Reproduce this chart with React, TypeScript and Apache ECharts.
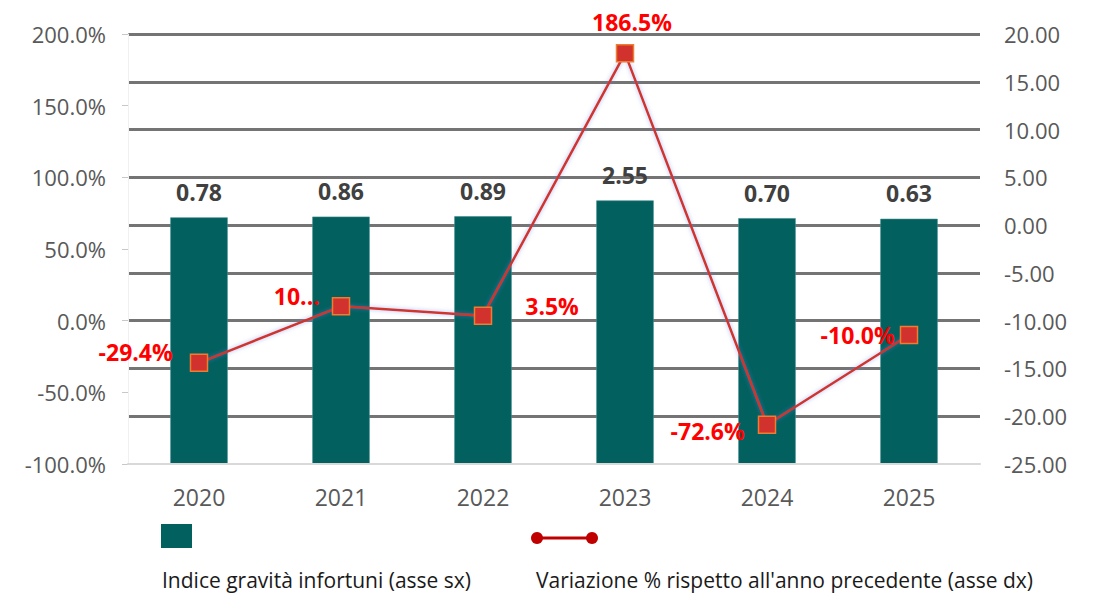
import React, { useEffect, useRef } from "react";
import * as echarts from "echarts";

const YEARS = ["2020", "2021", "2022", "2023", "2024", "2025"];
const INDEX_VALUES = [0.78, 0.86, 0.89, 2.55, 0.7, 0.63];
const CHANGE_PCT = [-29.4, 10.0, 3.5, 186.5, -72.6, -10.0];
const CHANGE_LABELS = ["-29.4%", "10...", "3.5%", "186.5%", "-72.6%", "-10.0%"];
const LEFT_AXIS = { min: -100, max: 200, interval: 50 };
const RIGHT_AXIS = { min: -25, max: 20, interval: 5 };
const LEGEND_BAR = "Indice gravità infortuni (asse sx)";
const LEGEND_LINE = "Variazione % rispetto all'anno precedente (asse dx)";

const FONT = "'Open Sans', 'Noto Sans', sans-serif";
const TEAL = "#02605F";

export default function App() {
  const ref = useRef<HTMLDivElement>(null);

  useEffect(() => {
    if (!ref.current) return;
    const chart = echarts.init(ref.current, null, { renderer: "svg" });

    const labelPlacement: any[] = [
      { position: "left", distance: 17, offset: [0, -11] },
      { position: "left", distance: 12, offset: [0, -10] },
      { position: "right", distance: 33, offset: [0, -10] },
      { position: "top", distance: 11, offset: [7, 0] },
      { position: "left", distance: 13, offset: [0, 6] },
      { position: "left", distance: 5, offset: [0, 0] },
    ];

    const option: any = {
      animation: false,
      backgroundColor: "#ffffff",
      textStyle: { fontFamily: FONT },
      grid: { left: 128, right: 123, top: 34, bottom: 133, containLabel: false },
      xAxis: {
        type: "category",
        data: YEARS,
        boundaryGap: true,
        axisLine: { show: true, onZero: false, lineStyle: { color: "#d9d9d9", width: 2 } },
        axisTick: { show: false },
        axisLabel: { color: "#595959", fontSize: 23, margin: 21, fontFamily: FONT },
        z: 5,
      },
      yAxis: [
        {
          type: "value",
          position: "left",
          min: LEFT_AXIS.min,
          max: LEFT_AXIS.max,
          interval: LEFT_AXIS.interval,
          axisLine: { show: true, lineStyle: { color: "#f0f0f0", width: 1 } },
          axisTick: { show: true, length: 6, lineStyle: { color: "#c8c8c8" } },
          splitLine: { show: false },
          axisLabel: {
            color: "#595959",
            fontSize: 22,
            margin: 22,
            fontFamily: FONT,
            formatter: (v: number) => v.toFixed(1) + "%",
          },
        },
        {
          type: "value",
          position: "right",
          min: RIGHT_AXIS.min,
          max: RIGHT_AXIS.max,
          interval: RIGHT_AXIS.interval,
          axisLine: { show: false },
          axisTick: { show: false },
          splitLine: {
            show: true,
            showMinLine: false,
            lineStyle: { color: "#747474", width: 3 },
          },
          axisLabel: {
            color: "#595959",
            fontSize: 22,
            margin: 24,
            fontFamily: FONT,
            formatter: (v: number) => v.toFixed(2),
          },
        },
      ],
      series: [
        {
          type: "custom",
          name: LEGEND_BAR,
          yAxisIndex: 1,
          z: 2,
          data: INDEX_VALUES.map((v, i) => [i, v]),
          renderItem: (params: any, api: any) => {
            const x = api.value(0);
            const v = api.value(1);
            const top = api.coord([x, v]);
            const base = api.coord([x, RIGHT_AXIS.min]);
            const w = api.size([1, 0])[0] * 0.4;
            return {
              type: "rect",
              shape: { x: top[0] - w / 2, y: top[1], width: w, height: base[1] - top[1] },
              style: { fill: TEAL, stroke: "#3f8a89", lineWidth: 0.6 },
              textContent: {
                style: {
                  text: Number(v).toFixed(2),
                  fill: "#404040",
                  fontSize: 23,
                  fontWeight: "bold",
                  fontFamily: FONT,
                },
              },
              textConfig: { position: "top", distance: 14 },
            };
          },
        },
        {
          type: "line",
          name: LEGEND_LINE,
          yAxisIndex: 0,
          z: 4,
          data: CHANGE_PCT.map((v, i) => ({
            value: v,
            label: { ...labelPlacement[i] },
          })),
          symbol: "rect",
          symbolSize: 17,
          itemStyle: { color: "#D2322D", borderColor: "#ED7D31", borderWidth: 1.5 },
          lineStyle: {
            color: "#D0342C",
            width: 2.5,
            shadowColor: "rgba(90,130,220,0.55)",
            shadowBlur: 4,
          },
          label: {
            show: true,
            color: "#FF0000",
            fontSize: 23,
            fontWeight: "bold",
            fontFamily: FONT,
            formatter: (p: any) => CHANGE_LABELS[p.dataIndex],
          },
        },
      ],
      graphic: [
        { type: "rect", left: 161, top: 524, shape: { width: 31, height: 24 }, style: { fill: TEAL } },
        {
          type: "line",
          shape: { x1: 537, y1: 538, x2: 592, y2: 538 },
          style: { stroke: "#C00000", lineWidth: 3 },
        },
        { type: "circle", shape: { cx: 537, cy: 538, r: 6 }, style: { fill: "#C00000" } },
        { type: "circle", shape: { cx: 592, cy: 538, r: 6 }, style: { fill: "#C00000" } },
        {
          type: "text",
          left: 162,
          top: 569,
          style: { text: LEGEND_BAR, fill: "#1a1a1a", fontSize: 21, fontFamily: FONT },
        },
        {
          type: "text",
          left: 536,
          top: 569,
          style: { text: LEGEND_LINE, fill: "#1a1a1a", fontSize: 21, fontFamily: FONT },
        },
      ],
    };

    chart.setOption(option);
    return () => chart.dispose();
  }, []);

  return <div ref={ref} style={{ width: 1103, height: 597, position: "absolute", left: 0, top: 0 }} />;
}
